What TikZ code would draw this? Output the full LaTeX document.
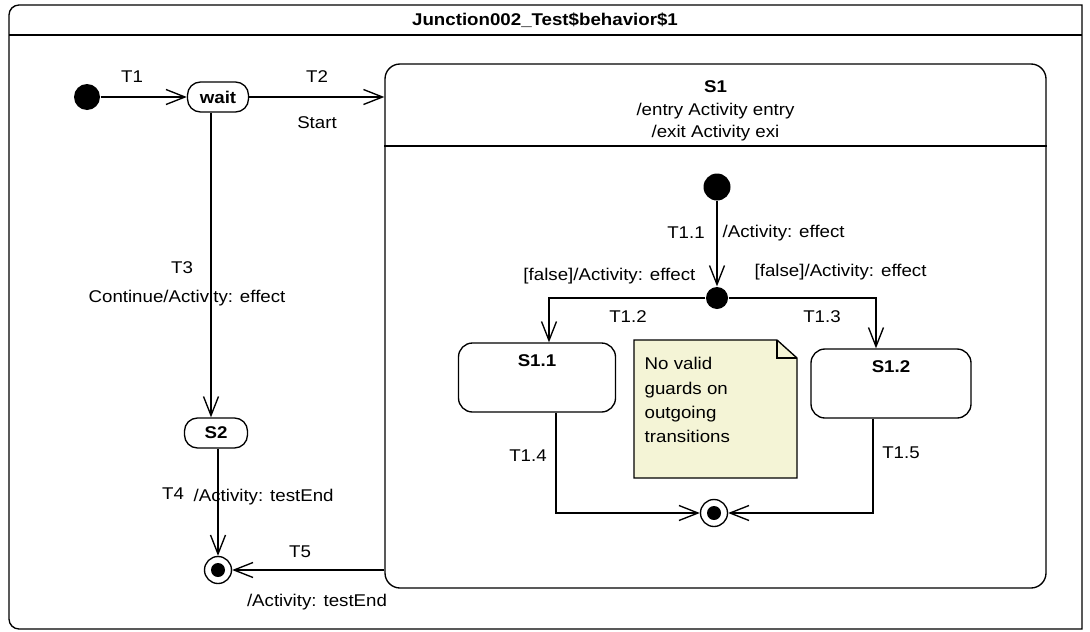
\documentclass[tikz,border=0pt]{standalone}
\usepackage{fontspec}
\setmainfont{Liberation Sans}[FakeStretch=1.1]
\usetikzlibrary{positioning, calc, arrows.meta}

\definecolor{notefill}{RGB}{244,244,214}

\begin{document}
\begin{tikzpicture}[x=1pt, y=-1pt, line width=1.35pt,
    >={Straight Barb[length=19pt, width=15pt]},
    font=\fontsize{17}{22}\selectfont,
    lbl/.style={inner sep=0pt},
    pill/.style={draw, rounded corners=13pt, minimum height=30pt, inner sep=0pt},
    substate/.style={draw, rounded corners=14pt, minimum width=157pt, minimum height=69pt},
    composite/.style={draw, rounded corners=15pt, minimum width=661pt, minimum height=524pt},
    initial/.style={circle, fill=black, minimum size=26pt, inner sep=0pt},
    junction/.style={circle, fill=black, minimum size=22pt, inner sep=0pt},
    final/.style={circle, draw, fill=white, minimum size=27pt, inner sep=0pt,
        path picture={\fill[black] (path picture bounding box.center) circle (7pt);}}]
    \useasboundingbox (0,0) rectangle (1090,632);

    % Frame
    \draw (1082,5) -- (19,5) arc[start angle=270, end angle=180, radius=10]
        -- (9,619) arc[start angle=180, end angle=90, radius=10] -- (1082,629) -- cycle;
    \draw (9,35) -- (1082,35);
    \node[lbl, font=\fontsize{17}{22}\selectfont\bfseries] (title) at (545,20) {Junction002\_Test\$behavior\$1};

    % Top level states
    \node[initial] (init) at (87,97) {};
    \node[pill, minimum width=61pt] (wait) at (218,97) {\textbf{wait}};
    \node[pill, minimum width=63pt] (s2) at (216,433) {\textbf{S2}};
    \node[final] (fin) at (218,570) {};

    % Composite state S1
    \node[composite] (s1) at (715.5,326) {};
    \node[lbl, anchor=north, align=center, font=\fontsize{17}{22.5}\selectfont] (s1head) at (715.5,80)
        {\textbf{S1}\\/entry Activity entry\\/exit Activity exi};
    \draw (s1.west |- 0,146) -- (s1.east |- 0,146);

    % Inside S1
    \node[initial, minimum size=27pt] (init2) at (717,187) {};
    \node[junction] (junc) at (717,298) {};
    \node[substate] (s11) at (537,377.5) {};
    \node[substate, minimum width=160pt] (s12) at (891,383.5) {};
    \node[lbl, below=12pt of s11.north] (s11name) {\textbf{S1.1}};
    \node[lbl, below=12pt of s12.north] (s12name) {\textbf{S1.2}};
    \node[final] (fin2) at (714,513) {};

    % Note
    \draw[fill=notefill] (634,340) -- (777,340) -- (797,358) -- (797,478) -- (634,478) -- cycle;
    \draw (777,340) -- (777,358) -- (797,358);
    \node[lbl, anchor=north west, align=left, font=\fontsize{17}{24.3}\selectfont] (note) at (644,357)
        {No valid\\guards on\\outgoing\\transitions};

    % Transitions
    \draw[->] (init) -- (wait);
    \draw[->] (wait) -- (wait -| s1.west);
    \draw[->] ([xshift=-7pt]wait.south) -- ([xshift=-7pt]wait.south |- s2.north);
    \draw[->] (fin |- s2.south) -- (fin);
    \draw[->] (fin -| s1.west) -- (fin);
    \draw[->] (init2) -- (junc);
    \draw[->] (junc) -| ([xshift=12pt]s11.north);
    \draw[->] (junc) -| ([xshift=-15pt]s12.north);
    \draw[->] ([xshift=19pt]s11.south) |- (fin2);
    \draw[->] ([xshift=-18pt]s12.south) |- (fin2);

    % Transition labels
    \node[lbl] (t1) at (132,77) {T1};
    \node[lbl] (t2) at (317,77) {T2};
    \node[lbl] (start) at (317,123) {Start};
    \node[lbl] (t3) at (182,268) {T3};
    \node[lbl] (t3e) at (187,298) {Continue/Activity: effect};
    \node[lbl] (t4) at (173,494) {T4};
    \node[lbl, anchor=west] (t4e) at (193,497) {/Activity: testEnd};
    \node[lbl] (t5) at (300,552) {T5};
    \node[lbl] (t5e) at (317,602) {/Activity: testEnd};
    \node[lbl] (t11) at (686,233) {T1.1};
    \node[lbl, anchor=west] (t11e) at (722,233) {/Activity: effect};
    \node[lbl, anchor=east] (t12g) at (696,276) {[false]/Activity: effect};
    \node[lbl, anchor=west] (t13g) at (754,272) {[false]/Activity: effect};
    \node[lbl] (t12) at (628,317) {T1.2};
    \node[lbl] (t13) at (822,317) {T1.3};
    \node[lbl] (t14) at (528,456) {T1.4};
    \node[lbl] (t15) at (901,453) {T1.5};
\end{tikzpicture}
\end{document}
